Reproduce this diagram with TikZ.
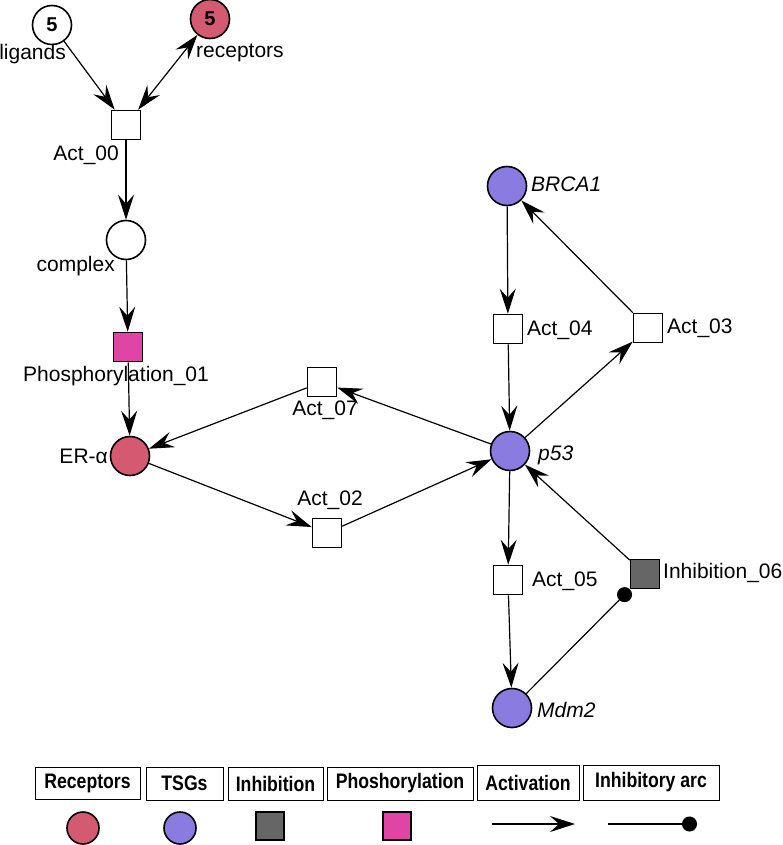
\documentclass[tikz,border=0pt]{standalone}
\usepackage{fontspec}
\setmainfont{Liberation Sans}
\newfontfamily\narrowsf[FakeStretch=0.84]{Liberation Sans}
\usetikzlibrary{arrows.meta}
\definecolor{recred}{HTML}{D45A72}
\definecolor{tsgblue}{HTML}{8A7BE0}
\definecolor{inhgray}{HTML}{666666}
\definecolor{phosmag}{HTML}{E044A4}
\tikzset{
  place/.style={circle, draw, line width=1.6pt, minimum size=39pt, inner sep=0pt},
  trans/.style={rectangle, draw, line width=1.6pt, minimum size=29pt, inner sep=0pt},
  lbl/.style={font=\fontsize{21}{24}\selectfont, inner sep=0pt},
  tok/.style={font=\bfseries\fontsize{20}{22}\selectfont},
  tipA/.tip={Stealth[length=25pt,width=16pt,inset=9pt]},
  arc/.style={line width=1.2pt, -tipA},
  biarc/.style={line width=1.2pt, tipA-tipA},
  inharc/.style={line width=1.2pt, -{Circle[length=15pt]}},
  legbox/.style={rectangle, draw, line width=1pt, inner sep=0pt, font=\narrowsf\bfseries\fontsize{21}{22}\selectfont},
  legcirc/.style={circle, draw, line width=1.6pt, minimum size=32pt, inner sep=0pt},
  legsq/.style={rectangle, draw, line width=1.6pt, minimum size=28pt, inner sep=0pt}
}
\begin{document}
\begin{tikzpicture}[x=1pt, y=-1pt]
\useasboundingbox (0,0) rectangle (782,845);
% places
\node[place, fill=white, tok] (lig) at (52,25) {5};
\node[place, fill=recred, tok] (rec) at (210,19) {5};
\node[place, fill=white] (cpx) at (126,240) {};
\node[place, fill=recred] (era) at (130,456) {};
\node[place, fill=tsgblue] (p53) at (510,451) {};
\node[place, fill=tsgblue] (brca) at (507,186) {};
\node[place, fill=tsgblue] (mdm) at (512,708) {};
% transitions
\node[trans, fill=white] (a00) at (126,125) {};
\node[trans, fill=phosmag] (ph01) at (128,347) {};
\node[trans, fill=white] (a07) at (322,382) {};
\node[trans, fill=white] (a02) at (327,533) {};
\node[trans, fill=white] (a04) at (508,329) {};
\node[trans, fill=white] (a03) at (648,328) {};
\node[trans, fill=white] (a05) at (508,580) {};
\node[trans, fill=inhgray] (i06) at (645,574) {};
% labels
\node[lbl, anchor=east] (tlig) at (66,54) {ligands};
\node[lbl, anchor=west] (trec) at (196,53) {receptors};
\node[lbl, anchor=east] (ta00) at (119,155) {Act\_00};
\node[lbl, anchor=east] (tcpx) at (115,266) {complex};
\node[lbl, anchor=west] (tph) at (23,376) {Phosphorylation\_01};
\node[lbl, anchor=east] (tera) at (108,456) {ER-α};
\node[lbl] (ta07) at (325,410) {Act\_07};
\node[lbl] (ta02) at (330,500) {Act\_02};
\node[lbl, anchor=west] (tp53) at (538,455) {\itshape p53};
\node[lbl, anchor=west] (tbrca) at (531,184) {\itshape BRCA1};
\node[lbl, anchor=west] (ta04) at (527,330) {Act\_04};
\node[lbl, anchor=west] (ta03) at (667,328) {Act\_03};
\node[lbl, anchor=west] (ta05) at (532,581) {Act\_05};
\node[lbl, anchor=west] (ti06) at (663,573) {Inhibition\_06};
\node[lbl, anchor=west] (tmdm) at (537,710) {\itshape Mdm2};
% arcs
\draw[arc] (lig) -- (a00);
\draw[biarc] (a00) -- (rec);
\draw[arc] (a00) -- (cpx);
\draw[arc] (cpx) -- (ph01);
\draw[arc] (ph01) -- (era);
\draw[arc] (p53) -- (a07);
\draw[arc] (a07) -- (era);
\draw[arc] (era) -- (a02);
\draw[arc] (a02) -- (p53);
\draw[arc] (brca) -- (a04);
\draw[arc] (a04) -- (p53);
\draw[arc] (p53) -- (a03);
\draw[arc] (a03) -- (brca);
\draw[arc] (p53) -- (a05);
\draw[arc] (a05) -- (mdm);
\draw[arc] (i06) -- (p53);
\draw[inharc] (mdm) -- (i06);
% legend
\node[legbox, minimum width=105pt, minimum height=32pt] (lg1) at (87.5,783) {Receptors};
\node[legbox, minimum width=77pt, minimum height=33pt] (lg2) at (184.5,783.5) {TSGs};
\node[legbox, minimum width=95pt, minimum height=33pt] (lg3) at (275.5,783.5) {Inhibition};
\node[legbox, minimum width=146pt, minimum height=33pt] (lg4) at (400,783.5) {Phoshorylation};
\node[legbox, minimum width=102pt, minimum height=35pt] (lg5) at (528,782.5) {Activation};
\node[legbox, minimum width=136pt, minimum height=35pt] (lg6) at (651,782.5) {Inhibitory arc};
\node[legcirc, fill=recred] (ls1) at (83,828) {};
\node[legcirc, fill=tsgblue] (ls2) at (180,828) {};
\node[legsq, fill=inhgray] (ls3) at (270,826) {};
\node[legsq, fill=phosmag] (ls4) at (397,826) {};
\coordinate (la1) at (492,824);
\coordinate (la2) at (575,824);
\coordinate (lb1) at (608,824);
\coordinate (lb2) at (697,824);
\draw[arc] (la1) -- (la2);
\draw[inharc] (lb1) -- (lb2);
\end{tikzpicture}
\end{document}
